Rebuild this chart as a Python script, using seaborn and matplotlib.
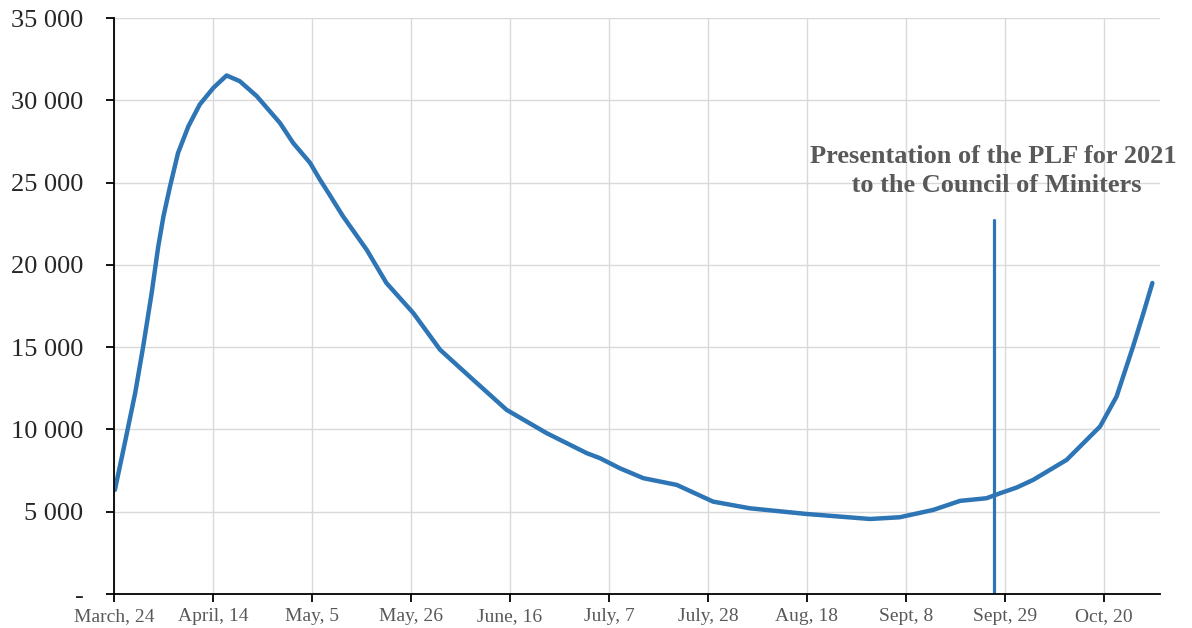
from datetime import datetime, timedelta

import matplotlib.pyplot as plt
import matplotlib.ticker as mticker
import pandas as pd
import seaborn as sns

# days since March 24 (2020) and the values
day_offsets = [0.2, 2.3, 4.5, 6.2, 8.0, 9.4, 10.5, 11.9, 13.6, 15.8, 18.2, 21.1, 23.9,
               26.7, 30.3, 35.2, 38.0, 41.6, 43.7, 45.5, 48.6, 53.6, 57.8, 63.5, 69.2,
               76.2, 83.3, 91.8, 100.3, 103.1, 107.3, 112.3, 119.4, 127.1, 134.9,
               146.9, 160.4, 166.7, 173.8, 179.5, 185.1, 188, 191.5, 195, 202.1,
               209.2, 212.7, 216.2, 218.4, 220.3]
values = [6330, 9170, 12210, 15040, 18290, 21125, 22950, 24775, 26805, 28425, 29745,
          30760, 31510, 31160, 30250, 28630, 27415, 26200, 25180, 24370, 22950, 20925,
          18900, 17075, 14840, 13020, 11190, 9775, 8560, 8255, 7645, 7040, 6630, 5615,
          5210, 4865, 4560, 4665, 5110, 5660, 5820, 6125, 6470, 6935, 8150, 10180,
          12000, 15040, 17075, 18900]

tick_offsets = [0, 21, 42, 63, 84, 105, 126, 147, 168, 189, 210]
tick_labels = ["March, 24", "April, 14", "May, 5", "May, 26", "June, 16", "July, 7",
               "July, 28", "Aug, 18", "Sept, 8", "Sept, 29", "Oct, 20"]

marker_offset = 186.6
marker_top = 22750
note = "Presentation of the PLF for 2021\n to the Council of Miniters"

start = datetime(2020, 3, 24)
df = pd.DataFrame({
    "date": [start + timedelta(days=d) for d in day_offsets],
    "value": values,
})

sns.set_style("whitegrid")
plt.rcParams["font.family"] = ["Liberation Serif", "DejaVu Serif"]

fig = plt.figure(figsize=(11.92, 6.28), dpi=100)
ax = fig.add_axes([0.0956, 0.0541, 0.8775, 0.9172])

sns.lineplot(data=df, x="date", y="value", ax=ax, color="#2E75B6", linewidth=3.2,
             solid_capstyle="round", solid_joinstyle="round")

mark_date = start + timedelta(days=marker_offset)
ax.plot([mark_date, mark_date], [0, marker_top], color="#2E75B6", linewidth=2.3)
ax.text(mark_date, 25700, note, ha="center", va="center", fontsize=19,
        fontweight="bold", color="#595959", clip_on=False, linespacing=1.3)

ax.set_xlim(start, start + timedelta(days=221.9))
ax.set_ylim(0, 35000)
ax.set_xticks([start + timedelta(days=d) for d in tick_offsets])
ax.set_xticklabels(tick_labels)
ax.yaxis.set_major_locator(mticker.MultipleLocator(5000))
ax.yaxis.set_major_formatter(mticker.FuncFormatter(
    lambda v, p: "-" if v == 0 else f"{int(v):,}".replace(",", " ")))

ax.grid(True, color="#d9d9d9", linewidth=1)
for side in ["top", "right"]:
    ax.spines[side].set_visible(False)
for side in ["left", "bottom"]:
    ax.spines[side].set_color("black")
    ax.spines[side].set_linewidth(1.3)

ax.tick_params(axis="x", which="major", bottom=True, length=6, width=1.3,
               color="black", labelsize=14, labelcolor="#595959", pad=4)
ax.tick_params(axis="y", which="major", left=True, length=6, width=1.3,
               color="black", labelsize=19, labelcolor="#262626", pad=16)
ax.set_xlabel("")
ax.set_ylabel("")

fig.savefig("out.png", dpi=100)
